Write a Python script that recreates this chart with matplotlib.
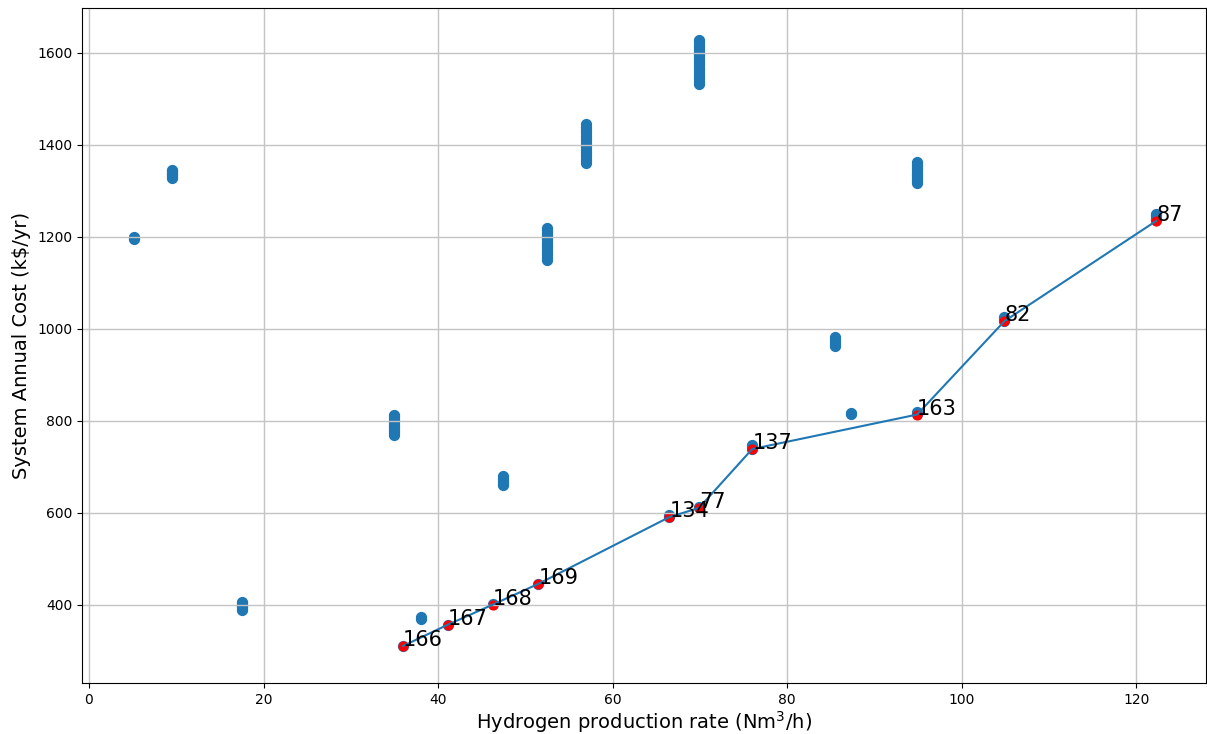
import matplotlib
matplotlib.use("Agg")
import matplotlib.pyplot as plt

# All design points (blue): one y-list per production rate
cluster_x = [5.2, 9.5, 17.5, 35.0, 36.0, 38.0, 41.1, 46.3, 47.5, 51.5,
             52.5, 57.0, 66.5, 69.9, 76.0, 85.5, 87.3, 94.9, 104.9, 122.3]
cluster_y = [
    [1196, 1198, 1200],
    [1328, 1331, 1334, 1337, 1340, 1343, 1346],
    [389, 392, 395, 398, 401, 404, 407],
    [770, 774, 778, 782, 786, 790, 794, 798, 802, 806, 810, 813],
    [311],
    [370, 373],
    [357],
    [402],
    [660, 664, 668, 672, 676, 680],
    [446],
    [1150, 1155, 1160, 1165, 1170, 1175, 1180, 1185, 1190, 1195, 1200, 1205,
     1210, 1215, 1220],
    [1360, 1365, 1370, 1375, 1380, 1385, 1390, 1395, 1400, 1405, 1410, 1415,
     1420, 1425, 1430, 1435, 1440, 1446],
    [592, 596],
    [612, 1533, 1538, 1543, 1548, 1553, 1558, 1563, 1568, 1573, 1578, 1583,
     1588, 1593, 1598, 1603, 1608, 1613, 1618, 1623, 1628],
    [740, 744, 748],
    [962, 966, 970, 974, 978, 982],
    [815, 818],
    [815, 819, 1318, 1322, 1326, 1330, 1334, 1338, 1342, 1346, 1350, 1354,
     1358, 1362],
    [1018, 1022, 1025],
    [1236, 1240, 1244, 1248, 1251],
]

# Pareto-optimal points (red) with labels
pareto_x = [36.0, 41.1, 46.3, 51.5, 66.5, 69.9, 76.0, 94.9, 104.9, 122.3]
pareto_y = [311, 357, 401, 446, 591, 611, 739, 814, 1017, 1235]
pareto_labels = ["166", "167", "168", "169", "134", "77", "137", "163", "82", "87"]

all_x, all_y = [], []
for x, ys in zip(cluster_x, cluster_y):
    for y in ys:
        all_x.append(x)
        all_y.append(y)

fig = plt.figure(figsize=(12.07, 7.34), dpi=100)
ax = fig.add_axes([82/1207, 1-683/734, (1206-82)/1207, (683-8)/734])

ax.scatter(all_x, all_y, s=50, color="#1f77b4")
ax.plot(pareto_x, pareto_y, color="#1f77b4", linewidth=1.5)
ax.scatter(pareto_x, pareto_y, s=40, color="red")
for x, y, lab in zip(pareto_x, pareto_y, pareto_labels):
    ax.annotate(lab, (x, y), fontsize=15)

ax.set_xlim(-0.8, 128.0)
ax.set_ylim(230.4, 1697.8)
ax.set_xticks([0, 20, 40, 60, 80, 100, 120])
ax.set_yticks([400, 600, 800, 1000, 1200, 1400, 1600])
ax.grid(True, color="#c4c4c4", linewidth=1.0)
ax.set_xlabel("Hydrogen production rate (Nm$^3$/h)", fontsize=14, labelpad=2)
ax.set_ylabel("System Annual Cost (k\\$/yr)", fontsize=14)

fig.savefig("out.png", dpi=100)
